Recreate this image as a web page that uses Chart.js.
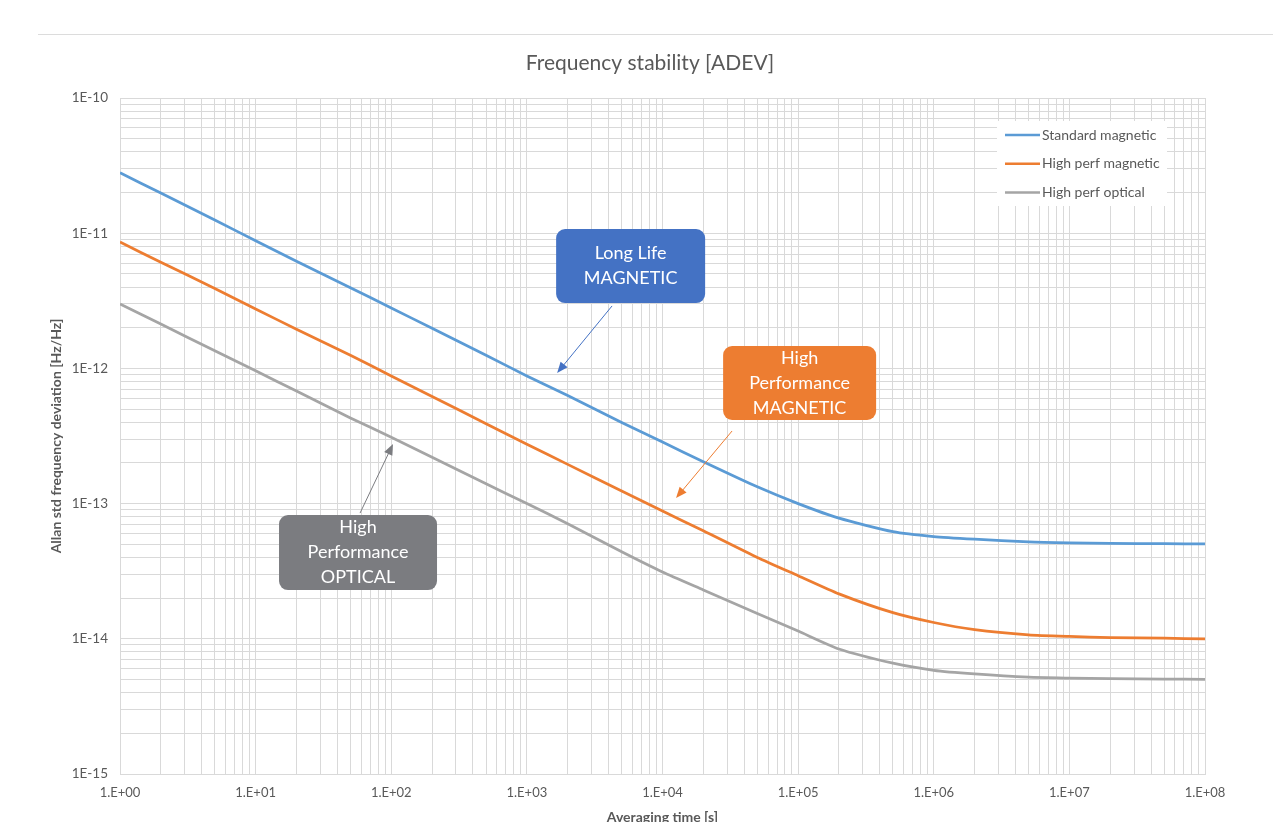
<!DOCTYPE html>
<html>
<head>
<meta charset="utf-8">
<title>Frequency stability [ADEV]</title>
<script src="https://cdn.jsdelivr.net/npm/chart.js@4.4.1/dist/chart.umd.min.js"></script>
<style>
  html, body { margin: 0; padding: 0; background: #fff; }
  #wrap { position: relative; width: 1273px; height: 822px; overflow: hidden; }
  #frame { position: absolute; left: 38px; right: 0; top: 34px; border-top: 1px solid #dcdcdc; }
  canvas { position: absolute; left: 0; top: 0; }
</style>
</head>
<body>
<div id="wrap">
  <div id="frame"></div>
  <canvas id="chartAdev" width="1273" height="822"></canvas>
</div>
<script>
// ── Data ──────────────────────────────────────────────────────
const TAU = [1, 2, 5, 1e1, 2e1, 5e1, 1e2, 2e2, 5e2, 1e3, 2e3, 5e3, 1e4, 2e4, 5e4,
             1e5, 2e5, 5e5, 1e6, 2e6, 5e6, 1e7, 2e7, 5e7, 1e8];

const STD_MAGNETIC = [2.8e-11, 1.98e-11, 1.25e-11, 8.8e-12, 6.2e-12, 3.95e-12, 2.8e-12, 1.98e-12,
                      1.25e-12, 8.8e-13, 6.3e-13, 3.98e-13, 2.85e-13, 2.04e-13, 1.33e-13, 1.0e-13,
                      7.8e-14, 6.2e-14, 5.7e-14, 5.45e-14, 5.2e-14, 5.12e-14, 5.08e-14, 5.05e-14, 5.03e-14];

const HP_MAGNETIC = [8.6e-12, 6.1e-12, 3.9e-12, 2.75e-12, 1.95e-12, 1.25e-12, 8.8e-13, 6.2e-13,
                     3.9e-13, 2.75e-13, 1.95e-13, 1.24e-13, 8.8e-14, 6.3e-14, 4.0e-14, 2.93e-14,
                     2.15e-14, 1.56e-14, 1.32e-14, 1.17e-14, 1.07e-14, 1.04e-14, 1.02e-14, 1.01e-14, 1.0e-14];

const HP_OPTICAL = [3.0e-12, 2.13e-12, 1.35e-12, 9.6e-13, 6.8e-13, 4.3e-13, 3.1e-13, 2.2e-13,
                    1.4e-13, 1.0e-13, 7.1e-14, 4.4e-14, 3.12e-14, 2.3e-14, 1.54e-14, 1.14e-14,
                    8.4e-15, 6.6e-15, 5.85e-15, 5.5e-15, 5.2e-15, 5.12e-15, 5.07e-15, 5.04e-15, 5.02e-15];

const SERIES_LABELS = ['Standard magnetic', 'High perf magnetic', 'High perf optical'];
const SERIES_COLORS = ['#5b9bd5', '#ed7d31', '#a5a5a5'];

const X_TICK_LABELS = ['1.E+00', '1.E+01', '1.E+02', '1.E+03', '1.E+04', '1.E+05', '1.E+06', '1.E+07', '1.E+08'];
const Y_TICK_LABELS = ['1E-15', '1E-14', '1E-13', '1E-12', '1E-11', '1E-10'];

const TITLE = 'Frequency stability [ADEV]';

// callouts: box centre and arrow ends in log10 data space
const CALLOUTS = [
  { lines: ['Long Life', 'MAGNETIC'], fill: '#4472c4', w: 149, h: 74,
    at: [3.765, -11.243], from: [3.628, -11.538], to: [3.223, -12.034] },
  { lines: ['High', 'Performance', 'MAGNETIC'], fill: '#ed7d31', w: 153, h: 74,
    at: [5.011, -12.108], from: [4.513, -12.463], to: [4.100, -12.959] },
  { lines: ['High', 'Performance', 'OPTICAL'], fill: '#7b7c80', w: 158, h: 75,
    at: [1.755, -13.362], from: [1.770, -13.070], to: [2.013, -12.559] },
];

const FONT = 'Lato, "Open Sans", sans-serif';
const TEXT_CLR = '#595959';
const GRID_CLR = '#d9d9d9';

function logTicks(minExp, maxExp) {
  const out = [];
  for (let e = minExp; e < maxExp; e++) {
    for (let m = 1; m <= 9; m++) out.push({ value: m * Math.pow(10, e) });
  }
  out.push({ value: Math.pow(10, maxExp) });
  return out;
}

function decadeIndex(v) {
  const e = Math.log10(v);
  return Math.abs(e - Math.round(e)) < 1e-6 ? Math.round(e) : null;
}

// ── Plugins ───────────────────────────────────────────────────
const chartTitle = {
  id: 'chartTitle',
  afterDraw(chart) {
    const { ctx } = chart;
    ctx.save();
    ctx.fillStyle = TEXT_CLR;
    ctx.font = '21px ' + FONT;
    ctx.textAlign = 'center';
    ctx.textBaseline = 'middle';
    ctx.fillText(TITLE, 650, 63);
    ctx.restore();
  }
};

const insideLegend = {
  id: 'insideLegend',
  afterDraw(chart) {
    const { ctx, chartArea } = chart;
    const left = chartArea.right - 208, top = chartArea.top + 23;
    ctx.save();
    ctx.fillStyle = '#fff';
    ctx.fillRect(left, top, 170, 85);
    ctx.font = '14px ' + FONT;
    ctx.textBaseline = 'middle';
    chart.data.datasets.forEach((ds, i) => {
      const y = top + 14 + i * 28.7;
      ctx.strokeStyle = ds.borderColor;
      ctx.lineWidth = 2.5;
      ctx.beginPath();
      ctx.moveTo(left + 8, y);
      ctx.lineTo(left + 43, y);
      ctx.stroke();
      ctx.fillStyle = TEXT_CLR;
      ctx.fillText(ds.label, left + 45, y);
    });
    ctx.restore();
  }
};

const callouts = {
  id: 'callouts',
  afterDraw(chart) {
    const { ctx } = chart;
    const xs = chart.scales.x, ys = chart.scales.y;
    const px = p => [xs.getPixelForValue(Math.pow(10, p[0])), ys.getPixelForValue(Math.pow(10, p[1]))];
    ctx.save();
    CALLOUTS.forEach(c => {
      // arrow
      const [x0, y0] = px(c.from), [x1, y1] = px(c.to);
      const ang = Math.atan2(y1 - y0, x1 - x0);
      const cs = Math.cos(ang), sn = Math.sin(ang);
      ctx.strokeStyle = c.fill;
      ctx.fillStyle = c.fill;
      ctx.lineWidth = 1;
      ctx.beginPath();
      ctx.moveTo(x0, y0);
      ctx.lineTo(x1 - 8 * cs, y1 - 8 * sn);
      ctx.stroke();
      ctx.beginPath();
      ctx.moveTo(x1, y1);
      ctx.lineTo(x1 - 11 * cs + 4.5 * sn, y1 - 11 * sn - 4.5 * cs);
      ctx.lineTo(x1 - 11 * cs - 4.5 * sn, y1 - 11 * sn + 4.5 * cs);
      ctx.closePath();
      ctx.fill();
      // box
      const [cx, cy] = px(c.at);
      ctx.beginPath();
      ctx.roundRect(cx - c.w / 2, cy - c.h / 2, c.w, c.h, 9);
      ctx.fill();
      ctx.fillStyle = '#fff';
      ctx.font = '18px ' + FONT;
      ctx.textAlign = 'center';
      ctx.textBaseline = 'middle';
      const n = c.lines.length;
      c.lines.forEach((t, i) => ctx.fillText(t, cx, cy + (i - (n - 1) / 2) * 25));
    });
    ctx.restore();
  }
};

// ── Chart ─────────────────────────────────────────────────────
const seriesValues = [STD_MAGNETIC, HP_MAGNETIC, HP_OPTICAL];

new Chart(document.getElementById('chartAdev').getContext('2d'), {
  type: 'scatter',
  data: {
    datasets: seriesValues.map((vals, i) => ({
      label: SERIES_LABELS[i],
      data: TAU.map((t, k) => ({ x: t, y: vals[k] })),
      showLine: true,
      borderColor: SERIES_COLORS[i],
      backgroundColor: SERIES_COLORS[i],
      borderWidth: 2.75,
      pointRadius: 0,
      tension: 0.2
    }))
  },
  options: {
    responsive: false,
    animation: false,
    devicePixelRatio: 1,
    layout: { padding: { left: 0, right: 68, top: 98, bottom: 0 } },
    plugins: {
      legend: { display: false },
      tooltip: { enabled: false },
      title: { display: false }
    },
    scales: {
      x: {
        type: 'logarithmic',
        min: 1, max: 1e8,
        afterBuildTicks: s => { s.ticks = logTicks(0, 8); },
        afterFit: s => { s.height = 48; },
        grid: { color: GRID_CLR, drawTicks: false },
        border: { color: GRID_CLR },
        ticks: {
          autoSkip: false, maxRotation: 0, padding: 11,
          color: TEXT_CLR, font: { family: FONT, size: 13 },
          callback: v => { const e = decadeIndex(v); return e === null ? '' : X_TICK_LABELS[e]; }
        },
        title: {
          display: true, text: 'Averaging time [s]', color: TEXT_CLR,
          font: { family: FONT, size: 14, weight: 'bold' }, padding: { top: 0, bottom: -4 }
        }
      },
      y: {
        type: 'logarithmic',
        min: 1e-15, max: 1e-10,
        afterBuildTicks: s => { s.ticks = logTicks(-15, -10); },
        afterFit: s => { s.width = 120; },
        grid: { color: GRID_CLR, drawTicks: false },
        border: { color: GRID_CLR },
        ticks: {
          autoSkip: false, padding: 12,
          color: TEXT_CLR, font: { family: FONT, size: 13.5 },
          callback: v => { const e = decadeIndex(v); return e === null ? '' : Y_TICK_LABELS[e + 15]; }
        },
        title: {
          display: true, text: 'Allan std frequency deviation [Hz/Hz]', color: TEXT_CLR,
          font: { family: FONT, size: 14, weight: 'bold' }, padding: { top: 48, bottom: 0 }
        }
      }
    }
  },
  plugins: [chartTitle, insideLegend, callouts]
});
</script>
</body>
</html>
